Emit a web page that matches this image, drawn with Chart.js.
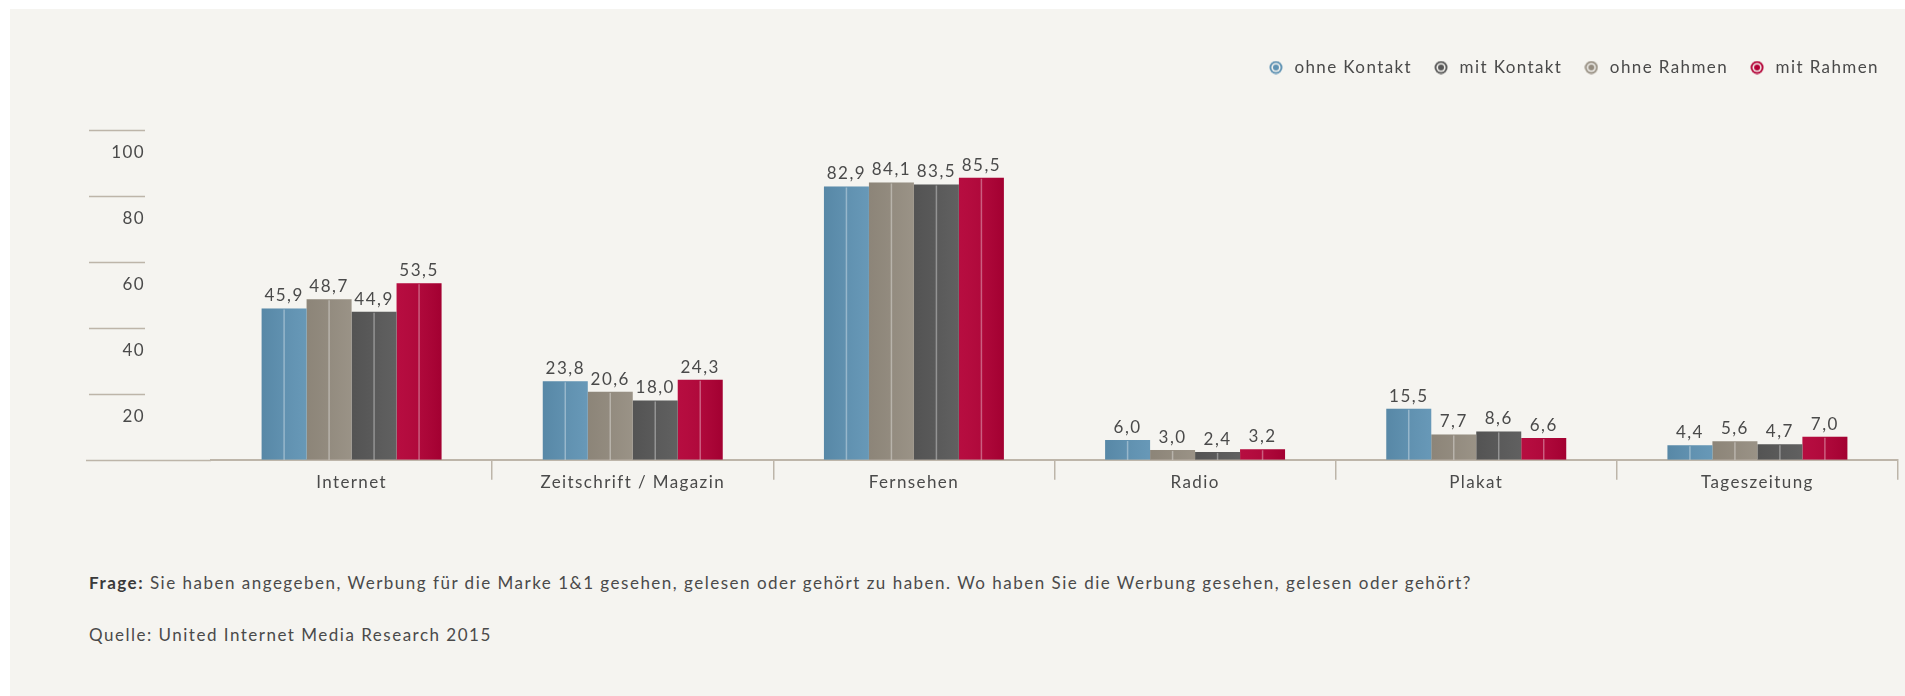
<!DOCTYPE html>
<html lang="de">
<head>
<meta charset="utf-8">
<title>Werbeerinnerung 1&amp;1</title>
<script src="https://cdn.jsdelivr.net/npm/chart.js@4.4.1/dist/chart.umd.min.js"></script>
<style>
  html, body { margin: 0; padding: 0; background: #fff; }
  body { width: 1905px; height: 696px; position: relative; overflow: hidden; font-family: Lato, sans-serif; color: #4a4a4a; }
  .panel { position: absolute; left: 10px; top: 9px; right: 0; bottom: 0; background: #f5f4f0; }
  .chart-box { position: absolute; left: 0; top: 0; width: 1905px; height: 536px; }
  .note { position: absolute; left: 89px; font-size: 17px; line-height: 20px; letter-spacing: 1.5px; white-space: nowrap; }
  .note b { color: #3a3a3a; }
</style>
</head>
<body>
<div class="panel"></div>
<div class="chart-box"><canvas id="mediaChart"></canvas></div>
<div class="note" style="top:573px"><b>Frage:</b> Sie haben angegeben, Werbung für die Marke 1&amp;1 gesehen, gelesen oder gehört zu haben. Wo haben Sie die Werbung gesehen, gelesen oder gehört?</div>
<div class="note" style="top:625px">Quelle: United Internet Media Research 2015</div>

<script>
const categories = ['Internet', 'Zeitschrift / Magazin', 'Fernsehen', 'Radio', 'Plakat', 'Tageszeitung'];
const ohneKontakt = [45.9, 23.8, 82.9, 6.0, 15.5, 4.4];
const ohneRahmen = [48.7, 20.6, 84.1, 3.0, 7.7, 5.6];
const mitKontakt = [44.9, 18.0, 83.5, 2.4, 8.6, 4.7];
const mitRahmen = [53.5, 24.3, 85.5, 3.2, 6.6, 7.0];
const yTicks = [0, 20, 40, 60, 80, 100];
const legendOrder = ['ohne Kontakt', 'mit Kontakt', 'ohne Rahmen', 'mit Rahmen'];

const textColor = '#4a4a4a';
const lineColor = '#bdb5a9';

// ring shaped legend markers
function ringMarker(color) {
  const c = document.createElement('canvas');
  c.width = 14;
  c.height = 14;
  const g = c.getContext('2d');
  g.fillStyle = color;
  g.beginPath(); g.arc(7, 7, 6.5, 0, Math.PI * 2); g.fill();
  g.fillStyle = '#f5f4f0';
  g.beginPath(); g.arc(7, 7, 4.6, 0, Math.PI * 2); g.fill();
  g.fillStyle = color;
  g.beginPath(); g.arc(7, 7, 3, 0, Math.PI * 2); g.fill();
  return c;
}

// shadeLeft / shadeRight: light overlay at the bar edges
function series(label, data, color, shadeLeft, shadeRight) {
  return {
    label: label,
    data: data,
    backgroundColor: color,
    borderWidth: 0,
    pointStyle: ringMarker(color),
    barPercentage: 1,
    categoryPercentage: 0.64,
    shadeLeft: shadeLeft,
    shadeRight: shadeRight
  };
}

// wide letter spacing like the original typography
const spacing = {
  id: 'spacing',
  beforeUpdate(chart) { chart.ctx.letterSpacing = '1.4px'; },
  beforeLayout(chart) { chart.ctx.letterSpacing = '1.4px'; },
  beforeDraw(chart) { chart.ctx.letterSpacing = '1.4px'; }
};

const legendSpace = {
  id: 'legendSpace',
  beforeInit(chart) {
    const fit = chart.legend.fit;
    chart.legend.fit = function () {
      fit.call(this);
      this.height = 90;
    };
  }
};

// short grid stubs left of the plot, drawn from the y scale
const yStubs = {
  id: 'yStubs',
  beforeDatasetsDraw(chart) {
    const y = chart.scales.y;
    const ctx = chart.ctx;
    ctx.save();
    ctx.strokeStyle = lineColor;
    ctx.lineWidth = 1.5;
    yTicks.forEach(v => {
      const py = Math.round(y.getPixelForValue(v)) + 0.5;
      ctx.beginPath();
      ctx.moveTo(v === 0 ? 86 : 89, py);
      ctx.lineTo(v === 0 ? chart.chartArea.left : 145, py);
      ctx.stroke();
    });
    ctx.restore();
  }
};

// shading, light centre line and value label on each bar
const barLabels = {
  id: 'barLabels',
  afterDatasetsDraw(chart) {
    const ctx = chart.ctx;
    ctx.save();
    chart.data.datasets.forEach((ds, i) => {
      const meta = chart.getDatasetMeta(i);
      meta.data.forEach((bar, j) => {
        const left = bar.x - bar.width / 2;
        const grad = ctx.createLinearGradient(left, 0, left + bar.width, 0);
        grad.addColorStop(0, ds.shadeLeft);
        grad.addColorStop(1, ds.shadeRight);
        ctx.fillStyle = grad;
        ctx.fillRect(left, bar.y, bar.width, bar.base - bar.y);

        ctx.strokeStyle = 'rgba(255,255,255,0.35)';
        ctx.lineWidth = 1.5;
        ctx.beginPath();
        ctx.moveTo(bar.x, bar.y + 1);
        ctx.lineTo(bar.x, bar.base);
        ctx.stroke();

        ctx.fillStyle = textColor;
        ctx.font = '17px Lato';
        ctx.letterSpacing = '1.5px';
        ctx.textAlign = 'center';
        ctx.textBaseline = 'alphabetic';
        ctx.fillText(ds.data[j].toFixed(1).replace('.', ','), bar.x, bar.y - 7);
      });
    });
    ctx.restore();
  }
};

const ctx = document.getElementById('mediaChart').getContext('2d');
const mediaChart = new Chart(ctx, {
  type: 'bar',
  data: {
    labels: categories,
    datasets: [
      series('ohne Kontakt', ohneKontakt, '#5e92b3', 'rgba(0,0,0,0.07)', 'rgba(255,255,255,0.06)'),
      series('ohne Rahmen', ohneRahmen, '#948c7f', 'rgba(0,0,0,0.05)', 'rgba(255,255,255,0.06)'),
      series('mit Kontakt', mitKontakt, '#585858', 'rgba(0,0,0,0.05)', 'rgba(255,255,255,0.05)'),
      series('mit Rahmen', mitRahmen, '#b30036', 'rgba(255,255,255,0.05)', 'rgba(0,0,0,0.09)')
    ]
  },
  options: {
    responsive: true,
    maintainAspectRatio: false,
    animation: false,
    layout: {
      padding: { top: 40, right: 7, bottom: 0, left: 0 }
    },
    plugins: {
      legend: {
        position: 'top',
        align: 'end',
        labels: {
          usePointStyle: true,
          pointStyleWidth: 20,
          padding: 19,
          color: textColor,
          font: { family: 'Lato', size: 17 },
          sort: (a, b) => legendOrder.indexOf(a.text) - legendOrder.indexOf(b.text)
        }
      },
      tooltip: { enabled: false }
    },
    scales: {
      x: {
        afterFit(scale) { scale.height = 59; },
        grid: {
          offset: true,
          drawOnChartArea: false,
          drawTicks: true,
          tickLength: 20,
          lineWidth: 1.5,
          color: c => (c.index === 0 || c.index === categories.length) ? 'rgba(0,0,0,0)' : lineColor
        },
        border: { color: lineColor, width: 2 },
        ticks: {
          color: textColor,
          padding: -7,
          font: { family: 'Lato', size: 17 }
        }
      },
      y: {
        min: yTicks[0],
        max: yTicks[yTicks.length - 1],
        afterFit(scale) { scale.width = 211; },
        afterBuildTicks(scale) { scale.ticks = yTicks.map(v => ({ value: v })); },
        grid: { display: false, drawTicks: false },
        border: { display: false },
        ticks: {
          color: textColor,
          padding: 66,
          labelOffset: 23,
          font: { family: 'Lato', size: 17 },
          callback: v => v === 0 ? '' : v
        }
      }
    }
  },
  plugins: [spacing, legendSpace, yStubs, barLabels]
});
</script>
</body>
</html>
